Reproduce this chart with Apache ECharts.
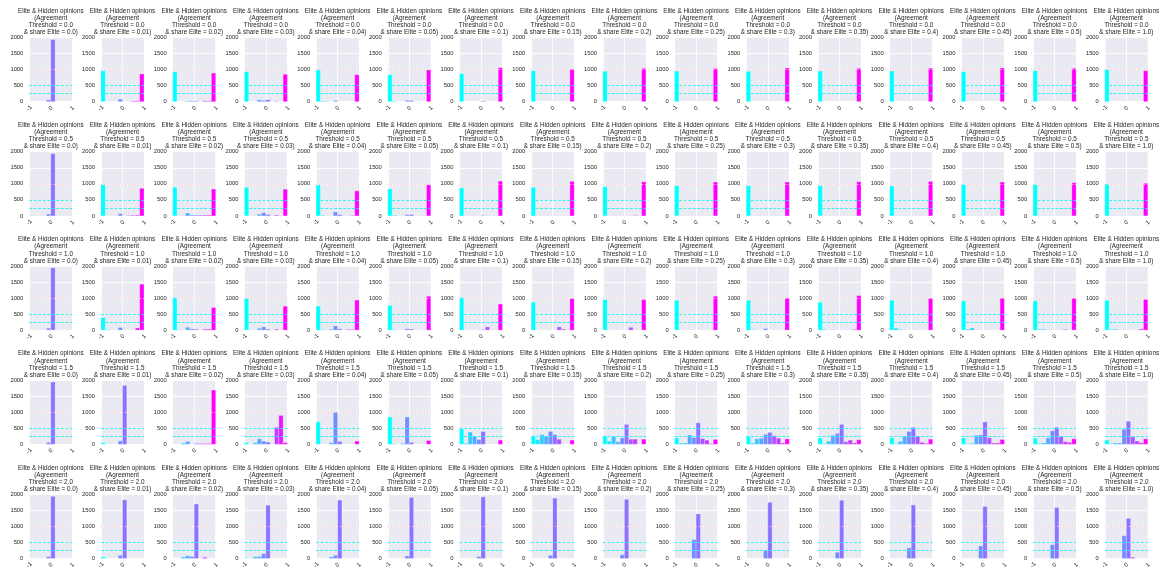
<!DOCTYPE html>
<html>
<head>
<meta charset="utf-8">
<script src="https://cdn.jsdelivr.net/npm/echarts@6/dist/echarts.min.js"></script>
<style>
  html, body { margin: 0; padding: 0; background: #ffffff; }
  #chart { width: 1166px; height: 576px; }
</style>
</head>
<body>
<div id="chart"></div>
<script>
// Histogram bin edges (10 bins of width 0.2 over the opinion range)
const binEdges = [-1, -0.8, -0.6, -0.4, -0.2, 0, 0.2, 0.4, 0.6, 0.8, 1];

// Facet labels
const thresholds = ['0.0', '0.5', '1.0', '1.5', '2.0'];
const shareElite = ['0.0', '0.01', '0.02', '0.03', '0.04', '0.05', '0.1', '0.15',
                    '0.2', '0.25', '0.3', '0.35', '0.4', '0.45', '0.5', '1.0'];

// Axis ticks
const xTickStep = 1;       // ticks at -1, 0, 1
const yTickStep = 500;     // ticks at 0 .. 2000
const yMax = 2000;

// Horizontal reference lines
const refPink = 1000;
const refCyan = [500, 250];

// Counts per bin, one list per share of elite, for each agreement threshold
const countsThreshold00 = [
  [0, 0, 0, 0, 60, 1935, 0, 0, 0, 0],
  [965, 0, 0, 0, 80, 0, 0, 20, 25, 865],
  [935, 0, 0, 20, 25, 20, 0, 25, 20, 890],
  [935, 0, 0, 60, 40, 60, 0, 15, 0, 855],
  [990, 20, 15, 0, 35, 0, 0, 0, 0, 840],
  [840, 20, 0, 0, 40, 35, 0, 0, 0, 990],
  [870, 0, 0, 0, 0, 20, 0, 0, 0, 1060],
  [965, 0, 0, 0, 0, 0, 0, 0, 0, 1010],
  [950, 0, 0, 0, 0, 0, 0, 0, 0, 1040],
  [955, 0, 0, 0, 0, 0, 0, 0, 0, 1035],
  [945, 0, 0, 0, 0, 0, 0, 0, 0, 1050],
  [955, 0, 0, 0, 0, 0, 0, 0, 0, 1040],
  [955, 0, 0, 0, 0, 0, 0, 0, 0, 1045],
  [935, 0, 0, 0, 0, 0, 0, 0, 0, 1050],
  [965, 0, 0, 0, 0, 0, 0, 0, 0, 1040],
  [1005, 0, 0, 0, 0, 0, 0, 0, 0, 965]
];
const countsThreshold05 = [
  [0, 0, 0, 0, 60, 1940, 0, 0, 0, 0],
  [975, 0, 0, 0, 70, 0, 15, 20, 25, 860],
  [890, 0, 0, 90, 30, 25, 25, 25, 25, 835],
  [890, 0, 0, 55, 100, 40, 0, 25, 0, 830],
  [960, 20, 0, 0, 125, 40, 0, 0, 15, 780],
  [840, 20, 0, 0, 40, 40, 0, 0, 0, 965],
  [870, 0, 0, 0, 0, 15, 0, 0, 0, 1085],
  [890, 0, 0, 0, 0, 0, 0, 0, 0, 1075],
  [910, 0, 0, 0, 0, 0, 0, 15, 0, 1060],
  [940, 0, 0, 0, 0, 0, 0, 0, 0, 1055],
  [940, 0, 0, 0, 0, 0, 0, 0, 0, 1055],
  [940, 0, 0, 0, 0, 0, 0, 0, 0, 1065],
  [930, 0, 0, 0, 0, 0, 0, 0, 0, 1075],
  [975, 0, 0, 0, 0, 0, 0, 0, 0, 1055],
  [975, 0, 0, 0, 0, 0, 0, 0, 0, 1035],
  [995, 0, 0, 0, 0, 0, 0, 0, 0, 1015]
];
const countsThreshold10 = [
  [0, 0, 0, 0, 60, 1940, 0, 0, 0, 0],
  [390, 20, 0, 0, 80, 0, 0, 0, 65, 1430],
  [1015, 20, 0, 90, 40, 30, 0, 30, 30, 705],
  [990, 0, 0, 55, 100, 30, 0, 30, 0, 745],
  [745, 20, 0, 30, 130, 40, 0, 20, 20, 935],
  [770, 20, 0, 0, 40, 35, 0, 0, 0, 1055],
  [1015, 0, 0, 0, 0, 20, 100, 0, 0, 810],
  [870, 0, 0, 0, 0, 0, 100, 30, 0, 985],
  [950, 0, 0, 0, 0, 0, 85, 0, 0, 950],
  [930, 0, 0, 0, 0, 0, 0, 0, 0, 1055],
  [930, 15, 0, 0, 50, 0, 0, 0, 0, 995],
  [870, 20, 0, 10, 0, 0, 0, 0, 20, 1075],
  [930, 60, 20, 0, 0, 0, 0, 0, 0, 990],
  [910, 30, 65, 0, 0, 0, 0, 0, 0, 995],
  [910, 25, 25, 0, 0, 0, 0, 20, 0, 995],
  [930, 25, 25, 0, 0, 0, 0, 0, 35, 955]
];
const countsThreshold15 = [
  [0, 0, 0, 0, 60, 1940, 0, 0, 0, 0],
  [50, 0, 0, 0, 110, 1835, 0, 0, 0, 0],
  [0, 0, 40, 90, 0, 25, 25, 25, 25, 1690],
  [50, 0, 50, 170, 100, 70, 0, 530, 900, 50],
  [700, 0, 0, 50, 1000, 90, 0, 0, 0, 100],
  [850, 20, 0, 30, 850, 60, 0, 0, 0, 120],
  [480, 30, 380, 250, 150, 400, 0, 0, 0, 130],
  [250, 150, 300, 250, 400, 300, 160, 0, 0, 130],
  [240, 100, 250, 80, 200, 620, 160, 160, 0, 160],
  [200, 40, 40, 290, 210, 670, 180, 130, 20, 150],
  [230, 40, 170, 190, 310, 370, 270, 190, 40, 170],
  [200, 20, 100, 280, 340, 620, 80, 130, 40, 140],
  [200, 20, 90, 250, 400, 530, 250, 60, 30, 160],
  [200, 20, 30, 280, 290, 700, 200, 40, 40, 150],
  [190, 30, 40, 200, 420, 530, 240, 80, 60, 170],
  [130, 20, 40, 40, 470, 720, 230, 100, 50, 170]
];
const countsThreshold20 = [
  [0, 0, 0, 0, 60, 1935, 0, 0, 0, 0],
  [50, 0, 0, 0, 100, 1825, 0, 0, 0, 0],
  [0, 0, 50, 85, 60, 1700, 0, 40, 0, 0],
  [15, 0, 60, 60, 150, 1660, 0, 0, 0, 0],
  [0, 0, 0, 50, 100, 1820, 0, 0, 0, 0],
  [0, 0, 0, 0, 80, 1900, 0, 0, 0, 0],
  [0, 0, 0, 0, 60, 1920, 0, 0, 0, 0],
  [0, 0, 0, 0, 100, 1880, 0, 0, 0, 0],
  [0, 0, 0, 0, 120, 1845, 0, 0, 0, 0],
  [0, 0, 0, 0, 590, 1390, 0, 0, 0, 0],
  [0, 0, 0, 0, 250, 1750, 0, 0, 0, 0],
  [0, 0, 0, 0, 195, 1815, 0, 0, 0, 0],
  [0, 0, 0, 0, 330, 1670, 0, 0, 0, 0],
  [0, 0, 0, 0, 390, 1620, 0, 0, 0, 0],
  [0, 0, 0, 0, 430, 1590, 0, 0, 0, 0],
  [0, 0, 0, 0, 710, 1250, 40, 0, 0, 0]
];
const countsByThreshold = [countsThreshold00, countsThreshold05, countsThreshold10,
                           countsThreshold15, countsThreshold20];

// ---- layout of the facet grid (pixels) ----
const colLeft0 = 29.3, colStep = 71.7, plotW = 43;
const rowTop0 = 37.5, rowStep = 114.2, plotH = 64.2;
const textColor = '#262626';
const fontFamily = 'Liberation Sans, Arial, sans-serif';

// "cool" colormap: cyan -> magenta along the bins
function coolColor(i, n) {
  const t = i / (n - 1);
  const r = Math.round(255 * t), g = Math.round(255 * (1 - t));
  return 'rgb(' + r + ',' + g + ',255)';
}

const grids = [], xAxes = [], yAxes = [], series = [], titles = [];
const nBins = binEdges.length - 1;

thresholds.forEach((thr, r) => {
  shareElite.forEach((share, c) => {
    const idx = grids.length;
    const left = colLeft0 + colStep * c;
    const top = rowTop0 + rowStep * r;

    grids.push({
      left: left, top: top, width: plotW, height: plotH,
      show: true, backgroundColor: '#EAEAF2', borderWidth: 0, containLabel: false
    });

    xAxes.push({
      type: 'value', gridIndex: idx, min: -1, max: 1, interval: xTickStep,
      axisLine: { show: false }, axisTick: { show: false },
      splitLine: { show: true, lineStyle: { color: '#ffffff', width: 0.9 } },
      axisLabel: {
        rotate: 45, align: 'center', verticalAlign: 'middle', margin: 6.5,
        fontSize: 5.8, color: textColor, fontFamily: fontFamily,
        formatter: v => String(v)
      }
    });

    yAxes.push({
      type: 'value', gridIndex: idx, min: 0, max: yMax, interval: yTickStep,
      axisLine: { show: false }, axisTick: { show: false },
      splitLine: { show: true, lineStyle: { color: '#ffffff', width: 0.9 } },
      axisLabel: {
        margin: 6, fontSize: 5.8, color: textColor, fontFamily: fontFamily,
        formatter: v => String(v)
      }
    });

    const counts = countsByThreshold[r][c];
    const data = [];
    counts.forEach((v, i) => {
      if (v > 0) data.push([binEdges[i], binEdges[i + 1], v, i]);
    });

    series.push({
      type: 'custom', xAxisIndex: idx, yAxisIndex: idx, silent: true,
      data: data,
      encode: { x: [0, 1], y: 2 },
      renderItem: function (params, api) {
        const p0 = api.coord([api.value(0), api.value(2)]);
        const p1 = api.coord([api.value(1), 0]);
        return {
          type: 'rect',
          shape: { x: p0[0], y: p0[1], width: p1[0] - p0[0], height: p1[1] - p0[1] },
          style: {
            fill: coolColor(api.value(3), nBins),
            stroke: 'rgba(255,255,255,0.45)', lineWidth: 0.6
          }
        };
      },
      markLine: {
        silent: true, symbol: ['none', 'none'], animation: false,
        label: { show: false },
        data: [
          { yAxis: refPink, lineStyle: { color: '#FFC0CB', type: [1.2, 1.8], width: 1 } },
          { yAxis: refCyan[0], lineStyle: { color: '#22F2F2', type: [3, 1.5], width: 0.9 } },
          { yAxis: refCyan[1], lineStyle: { color: '#22F2F2', type: [3, 1.5], width: 0.9 } }
        ]
      },
      z: 2
    });

    titles.push({
      text: 'Elite & Hidden opinions\n(Agreement\nThreshold = ' + thr + '\n& share Elite = ' + share + ')',
      left: left + plotW / 2,
      top: top + plotH - 94.2,
      textAlign: 'center',
      padding: 0,
      itemGap: 0,
      textStyle: {
        fontSize: 6.35, lineHeight: 7.15, fontWeight: 'normal',
        color: textColor, fontFamily: fontFamily
      }
    });
  });
});

const chart = echarts.init(document.getElementById('chart'), null, { renderer: 'canvas' });
chart.setOption({
  animation: false,
  backgroundColor: '#ffffff',
  title: titles,
  grid: grids,
  xAxis: xAxes,
  yAxis: yAxes,
  series: series
});
</script>
</body>
</html>
